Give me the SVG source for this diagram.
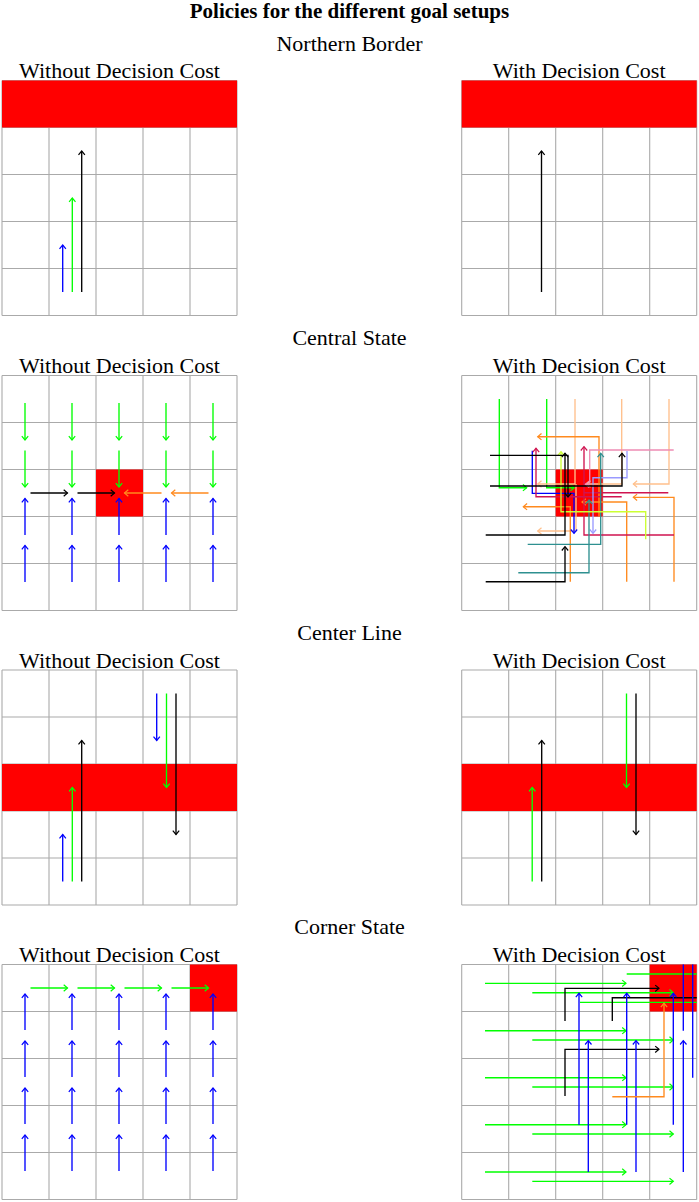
<svg xmlns="http://www.w3.org/2000/svg" xmlns:xlink="http://www.w3.org/1999/xlink" width="699" height="1202" viewBox="0 0 699 1202">
<style>
text{font-family:"Liberation Serif","Times New Roman",serif;fill:#000;text-anchor:middle}
.t0{font-size:21px;font-weight:bold}
.t1{font-size:22px}
.gr{fill:none;stroke:#aaaaaa;stroke-width:1.1}
.goal{fill:#ff0000}
.ar path{fill:none;stroke-width:1.35}
.k{stroke:#000;marker-end:url(#a-k)}
.b{stroke:#0000ff;marker-end:url(#a-b)}
.g{stroke:#00ff00;marker-end:url(#a-g)}
.o{stroke:#ff8a1e;marker-end:url(#a-o)}
.p{stroke:#ffc08c;marker-end:url(#a-p)}
.c{stroke:#d01450;marker-end:url(#a-c)}
.pk{stroke:#ee8cb4;marker-end:url(#a-pk)}
.l{stroke:#9a9aff;marker-end:url(#a-l)}
.tl{stroke:#2e9090;marker-end:url(#a-t)}
.y{stroke:#ccff33;marker-end:url(#a-y)}
.nm{marker-end:none}
</style>
<defs>
<g id="grid"><path class="gr" d="M0,0V235M47,0V235M94,0V235M141,0V235M188,0V235M235,0V235M0,0H235M0,47H235M0,94H235M0,141H235M0,188H235M0,235H235"/></g>
<marker id="a-k" viewBox="-5 -5 10 10" refX="0" refY="0" markerWidth="10" markerHeight="10" markerUnits="userSpaceOnUse" orient="auto"><path d="M-3.8,-3.2 L0,0 L-3.8,3.2" fill="none" stroke="#000" stroke-width="1.2"/></marker>
<marker id="a-b" viewBox="-5 -5 10 10" refX="0" refY="0" markerWidth="10" markerHeight="10" markerUnits="userSpaceOnUse" orient="auto"><path d="M-3.8,-3.2 L0,0 L-3.8,3.2" fill="none" stroke="#0000ff" stroke-width="1.2"/></marker>
<marker id="a-g" viewBox="-5 -5 10 10" refX="0" refY="0" markerWidth="10" markerHeight="10" markerUnits="userSpaceOnUse" orient="auto"><path d="M-3.8,-3.2 L0,0 L-3.8,3.2" fill="none" stroke="#00ff00" stroke-width="1.2"/></marker>
<marker id="a-o" viewBox="-5 -5 10 10" refX="0" refY="0" markerWidth="10" markerHeight="10" markerUnits="userSpaceOnUse" orient="auto"><path d="M-3.8,-3.2 L0,0 L-3.8,3.2" fill="none" stroke="#ff8a1e" stroke-width="1.2"/></marker>
<marker id="a-p" viewBox="-5 -5 10 10" refX="0" refY="0" markerWidth="10" markerHeight="10" markerUnits="userSpaceOnUse" orient="auto"><path d="M-3.8,-3.2 L0,0 L-3.8,3.2" fill="none" stroke="#ffc08c" stroke-width="1.2"/></marker>
<marker id="a-c" viewBox="-5 -5 10 10" refX="0" refY="0" markerWidth="10" markerHeight="10" markerUnits="userSpaceOnUse" orient="auto"><path d="M-3.8,-3.2 L0,0 L-3.8,3.2" fill="none" stroke="#d01450" stroke-width="1.2"/></marker>
<marker id="a-pk" viewBox="-5 -5 10 10" refX="0" refY="0" markerWidth="10" markerHeight="10" markerUnits="userSpaceOnUse" orient="auto"><path d="M-3.8,-3.2 L0,0 L-3.8,3.2" fill="none" stroke="#ee8cb4" stroke-width="1.2"/></marker>
<marker id="a-l" viewBox="-5 -5 10 10" refX="0" refY="0" markerWidth="10" markerHeight="10" markerUnits="userSpaceOnUse" orient="auto"><path d="M-3.8,-3.2 L0,0 L-3.8,3.2" fill="none" stroke="#9a9aff" stroke-width="1.2"/></marker>
<marker id="a-t" viewBox="-5 -5 10 10" refX="0" refY="0" markerWidth="10" markerHeight="10" markerUnits="userSpaceOnUse" orient="auto"><path d="M-3.8,-3.2 L0,0 L-3.8,3.2" fill="none" stroke="#2e9090" stroke-width="1.2"/></marker>
<marker id="a-y" viewBox="-5 -5 10 10" refX="0" refY="0" markerWidth="10" markerHeight="10" markerUnits="userSpaceOnUse" orient="auto"><path d="M-3.8,-3.2 L0,0 L-3.8,3.2" fill="none" stroke="#ccff33" stroke-width="1.2"/></marker>
</defs>
<rect width="699" height="1202" fill="#fff"/>

<g id="titles">
<text class="t0" x="349.5" y="18">Policies for the different goal setups</text>
<text class="t1" x="349.5" y="50.5">Northern Border</text>
<text class="t1" x="119.5" y="78">Without Decision Cost</text>
<text class="t1" x="579.2" y="78">With Decision Cost</text>
<text class="t1" x="349.5" y="345">Central State</text>
<text class="t1" x="119.5" y="373">Without Decision Cost</text>
<text class="t1" x="579.2" y="373">With Decision Cost</text>
<text class="t1" x="349.5" y="639.5">Center Line</text>
<text class="t1" x="119.5" y="667.5">Without Decision Cost</text>
<text class="t1" x="579.2" y="667.5">With Decision Cost</text>
<text class="t1" x="349.5" y="934">Corner State</text>
<text class="t1" x="119.5" y="962">Without Decision Cost</text>
<text class="t1" x="579.2" y="962">With Decision Cost</text>
</g>

<g id="northern-left"><use href="#grid" x="2" y="80.5"/><rect class="goal" x="2" y="80.5" width="235" height="47"/></g>
<g id="northern-right"><use href="#grid" x="461.7" y="80.5"/><rect class="goal" x="461.7" y="80.5" width="235" height="47"/></g>
<g id="central-left"><use href="#grid" x="2" y="375.5"/><rect class="goal" x="96" y="469.5" width="47" height="47"/></g>
<g id="central-right"><use href="#grid" x="461.7" y="375.5"/><rect class="goal" x="555.7" y="469.5" width="47" height="47"/></g>
<g id="centerline-left"><use href="#grid" x="2" y="670"/><rect class="goal" x="2" y="764" width="235" height="47"/></g>
<g id="centerline-right"><use href="#grid" x="461.7" y="670"/><rect class="goal" x="461.7" y="764" width="235" height="47"/></g>
<g id="corner-left"><use href="#grid" x="2" y="964.5"/><rect class="goal" x="190" y="964.5" width="47" height="47"/></g>
<g id="corner-right"><use href="#grid" x="461.7" y="964.5"/><rect class="goal" x="649.7" y="964.5" width="47" height="47"/></g>

<g id="connectors" class="ar">
<!-- Northern Border -->
<path class="b" d="M62.7,292V245"/>
<path class="g" d="M72.3,292V198"/>
<path class="k" d="M81.7,292V151"/>
<path class="k" d="M541.5,292V151"/>

<!-- Central State, without -->
<path class="g" d="M25,403V440"/><path class="g" d="M72,403V440"/><path class="g" d="M119,403V440"/><path class="g" d="M166,403V440"/><path class="g" d="M213,403V440"/>
<path class="g" d="M25,450.5V487"/><path class="g" d="M72,450.5V487"/><path class="g" d="M119,450.5V487"/><path class="g" d="M166,450.5V487"/><path class="g" d="M213,450.5V487"/>
<path class="b" d="M25,535V498.5"/><path class="b" d="M72,535V498.5"/><path class="b" d="M119,535V498.5"/><path class="b" d="M166,535V498.5"/><path class="b" d="M213,535V498.5"/>
<path class="b" d="M25,582V545.5"/><path class="b" d="M72,582V545.5"/><path class="b" d="M119,582V545.5"/><path class="b" d="M166,582V545.5"/><path class="b" d="M213,582V545.5"/>
<path class="k" d="M30.5,493H67.5"/><path class="k" d="M77.5,493H114.5"/>
<path class="o" d="M208.5,493H171.5"/><path class="o" d="M161.5,493H124.5"/>

<!-- Central State, with -->
<path class="g" d="M499.3,399V487.7H526.7"/>
<path class="g" d="M546.7,399V487.7H574.3"/>
<path class="p" d="M575,399V484H537.7"/>
<path class="p" d="M576,484V531H537.7"/>
<path class="p" d="M621.7,399V484H586.7"/>
<path class="p" d="M669,399V484H633.3"/>
<path class="o" d="M599,516.7V436.7H537.7"/>
<path class="o" d="M570.3,581.7V506.7H523.3"/>
<path class="o" d="M626.7,581.7V502H582"/>
<path class="o" d="M674,581.7V497.3H633.3"/>
<path class="b" d="M532.3,450.7V493.3H574V533.3"/>
<path class="c" d="M621.7,496.7H536V448.3"/>
<path class="c" d="M674,535H584V446.7"/>
<path class="c nm" d="M668.3,492.7H584"/>
<path class="pk" d="M673.7,450H589.7V484.3H585.3"/>
<path class="l" d="M627,451V477.7H593V533.3"/>
<path class="tl" d="M527.7,544.3H600.7V453.3"/>
<path class="tl" d="M518.3,572.7H589V500"/>
<path class="y" d="M645.7,539.3V511.7H561V451.7"/>
<path class="k" d="M490,455.3H568V497"/>
<path class="k" d="M490,486H622V453.3"/>
<path class="k" d="M485.7,535H565V453.3"/>
<path class="k" d="M485.7,581.7H565V546.7"/>

<!-- Center Line -->
<path class="b" d="M62.7,881.5V834.5"/>
<path class="g" d="M72.3,881.5V787.5"/>
<path class="k" d="M81.7,881.5V740.5"/>
<path class="b" d="M156.7,693.5V740.5"/>
<path class="g" d="M166.5,693.5V787.5"/>
<path class="k" d="M176,693.5V834.5"/>
<path class="g" d="M532.2,881.5V787.5"/>
<path class="k" d="M541.7,881.5V740.5"/>
<path class="g" d="M626.5,693.5V787.5"/>
<path class="k" d="M636,693.5V834.5"/>

<!-- Corner State, without -->
<path class="g" d="M30.5,988H67.5"/><path class="g" d="M77.5,988H114.5"/><path class="g" d="M124.5,988H161.5"/><path class="g" d="M171.5,988H208.5"/>
<path class="b" d="M25,1030V994"/><path class="b" d="M72,1030V994"/><path class="b" d="M119,1030V994"/><path class="b" d="M166,1030V994"/><path class="b" d="M213,1030V994"/>
<path class="b" d="M25,1077V1041"/><path class="b" d="M72,1077V1041"/><path class="b" d="M119,1077V1041"/><path class="b" d="M166,1077V1041"/><path class="b" d="M213,1077V1041"/>
<path class="b" d="M25,1124V1088"/><path class="b" d="M72,1124V1088"/><path class="b" d="M119,1124V1088"/><path class="b" d="M166,1124V1088"/><path class="b" d="M213,1124V1088"/>
<path class="b" d="M25,1171V1135"/><path class="b" d="M72,1171V1135"/><path class="b" d="M119,1171V1135"/><path class="b" d="M166,1171V1135"/><path class="b" d="M213,1171V1135"/>

<!-- Corner State, with -->
<path class="g nm" d="M626.7,974H696.7"/>
<path class="g" d="M485,983.3H626"/>
<path class="g" d="M532.3,992.7H673.3"/>
<path class="g nm" d="M580,1002.3H696.7"/>
<path class="g" d="M485,1030.7H626"/>
<path class="g" d="M532.3,1040H673.3"/>
<path class="g" d="M485,1077.7H626"/>
<path class="g" d="M532.3,1087H673.3"/>
<path class="g" d="M485,1124.7H626"/>
<path class="g" d="M532.3,1134H673.3"/>
<path class="g" d="M485,1172H626"/>
<path class="g" d="M532.3,1181.3H673.3"/>
<path class="k" d="M565,1021V988.3H659"/>
<path class="k nm" d="M612.3,1021V997.7H696.7"/>
<path class="k" d="M565,1096V1049.3H659"/>
<path class="b" d="M579,1124.7V993.3"/>
<path class="b" d="M588.3,1172V1040.7"/>
<path class="b" d="M626.7,1124.7V993.3"/>
<path class="b" d="M636,1172V1040.7"/>
<path class="b" d="M673.3,1124.7V993.3"/>
<path class="b" d="M683.3,1172V1040.7"/>
<path class="b nm" d="M683.3,1030.7V964.5"/>
<path class="b nm" d="M692.7,1077.7V964.5"/>
<path class="o" d="M612.3,1096.7H664V1003.3"/>
</g>
</svg>
